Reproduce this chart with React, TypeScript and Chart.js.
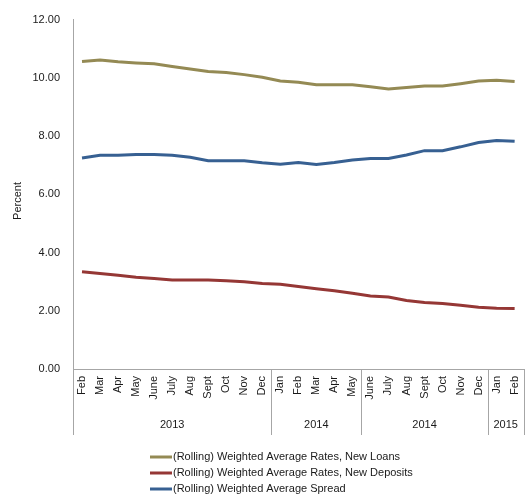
import React, { useEffect, useRef } from "react";
import { Chart, registerables } from "chart.js";

Chart.register(...registerables);

// Month labels along the category axis (Feb 2013 – Feb 2015)
const months = [
  "Feb", "Mar", "Apr", "May", "June", "July", "Aug", "Sept", "Oct", "Nov", "Dec",
  "Jan", "Feb", "Mar", "Apr", "May",
  "June", "July", "Aug", "Sept", "Oct", "Nov", "Dec",
  "Jan", "Feb",
];

// Year bands below the months: label and number of months covered
const yearLabels = ["2013", "2014", "2014", "2015"];
const yearSpans = [11, 5, 7, 2];

const newLoans = [
  10.56, 10.61, 10.55, 10.51, 10.48, 10.39, 10.3, 10.22, 10.18, 10.11, 10.02,
  9.89, 9.85, 9.76, 9.76, 9.76,
  9.69, 9.62, 9.67, 9.72, 9.72, 9.8, 9.89,
  9.92, 9.87,
];

const newDeposits = [
  3.34, 3.28, 3.22, 3.15, 3.11, 3.06, 3.06, 3.06, 3.03, 3.0, 2.94,
  2.91, 2.83, 2.76, 2.69, 2.6,
  2.51, 2.47, 2.35, 2.28, 2.25, 2.19, 2.12,
  2.09, 2.08,
];

const spread = [
  7.25, 7.34, 7.34, 7.37, 7.37, 7.34, 7.27, 7.15, 7.15, 7.15, 7.08,
  7.03, 7.09, 7.02, 7.09, 7.18,
  7.23, 7.23, 7.35, 7.5, 7.5, 7.63, 7.78,
  7.85, 7.82,
];

const seriesNames = [
  "(Rolling) Weighted Average Rates, New Loans",
  "(Rolling) Weighted Average Rates, New Deposits",
  "(Rolling) Weighted Average Spread",
];
const seriesColors = ["#948A54", "#953735", "#376092"];

const FONT = "'Liberation Sans', Arial, sans-serif";
const AXIS_GREY = "#A6A6A6";
const TEXT = "#1a1a1a";

// Draws the year bands, their dividers, the axis title and the legend
const decorations = {
  id: "decorations",
  afterDraw(chart: any) {
    const { ctx, chartArea, scales } = chart;
    const x = scales.x;
    const step = (chartArea.right - chartArea.left) / months.length;
    const bandTop = chartArea.bottom;
    const bandBottom = 435;

    ctx.save();
    ctx.strokeStyle = AXIS_GREY;
    ctx.lineWidth = 1;

    // divider lines between year groups (and the left axis running down)
    let idx = 0;
    const edges: number[] = [];
    for (let g = 0; g <= yearSpans.length; g++) {
      const px = x.getPixelForValue(idx) - step / 2;
      edges.push(px);
      if (g < yearSpans.length) idx += yearSpans[g];
    }
    edges.forEach((px) => {
      const xx = Math.round(px) + 0.5;
      ctx.beginPath();
      ctx.moveTo(xx, bandTop);
      ctx.lineTo(xx, bandBottom);
      ctx.stroke();
    });

    // year labels centered in each band
    ctx.fillStyle = TEXT;
    ctx.font = `11px ${FONT}`;
    ctx.textAlign = "center";
    ctx.textBaseline = "middle";
    for (let g = 0; g < yearLabels.length; g++) {
      const cx = (edges[g] + Math.min(edges[g + 1], 525)) / 2;
      ctx.fillText(yearLabels[g], cx, 425);
    }

    // y-axis title
    ctx.save();
    ctx.translate(18, 201);
    ctx.rotate(-Math.PI / 2);
    ctx.fillText("Percent", 0, 0);
    ctx.restore();

    // legend, one entry per row
    const rows = [457, 473, 489];
    ctx.textAlign = "left";
    seriesNames.forEach((name, i) => {
      const y = rows[i];
      ctx.strokeStyle = seriesColors[i];
      ctx.lineWidth = 3;
      ctx.beginPath();
      ctx.moveTo(150, y);
      ctx.lineTo(172, y);
      ctx.stroke();
      ctx.fillStyle = TEXT;
      ctx.fillText(name, 173, y);
    });
    ctx.restore();
  },
};

export default function App() {
  const canvasRef = useRef<HTMLCanvasElement | null>(null);

  useEffect(() => {
    const canvas = canvasRef.current;
    if (!canvas) return;
    const datasets = [newLoans, newDeposits, spread].map((data, i) => ({
      label: seriesNames[i],
      data,
      borderColor: seriesColors[i],
      backgroundColor: seriesColors[i],
      borderWidth: 3,
      pointRadius: 0,
      tension: 0,
      fill: false,
    }));

    const chart = new Chart(canvas, {
      type: "line",
      data: { labels: months, datasets },
      options: {
        responsive: false,
        animation: false,
        devicePixelRatio: 1,
        layout: { padding: { top: 17, right: 8, bottom: 0, left: 0 } },
        plugins: {
          legend: { display: false },
          tooltip: { enabled: false },
        },
        scales: {
          x: {
            type: "category",
            offset: true,
            grid: { display: false, drawTicks: false },
            border: { display: true, color: AXIS_GREY, width: 1 },
            ticks: {
              autoSkip: false,
              minRotation: 90,
              maxRotation: 90,
              padding: 7,
              color: TEXT,
              font: { family: FONT, size: 11 },
            },
            afterFit: (scale: any) => {
              scale.height = 126;
            },
          },
          y: {
            min: 0,
            max: 12,
            grid: { display: false, drawTicks: false },
            border: { display: true, color: AXIS_GREY, width: 1 },
            ticks: {
              stepSize: 2,
              padding: 13,
              color: TEXT,
              font: { family: FONT, size: 11 },
              callback: (v: any) => Number(v).toFixed(2),
            },
            afterFit: (scale: any) => {
              scale.width = 73;
            },
          },
        },
      },
      plugins: [decorations],
    });

    return () => chart.destroy();
  }, []);

  return (
    <div
      style={{
        position: "fixed",
        left: 0,
        top: 0,
        width: 525,
        height: 495,
        overflow: "hidden",
        background: "#fff",
      }}
    >
      <canvas ref={canvasRef} width={535} height={495} style={{ display: "block" }} />
    </div>
  );
}
